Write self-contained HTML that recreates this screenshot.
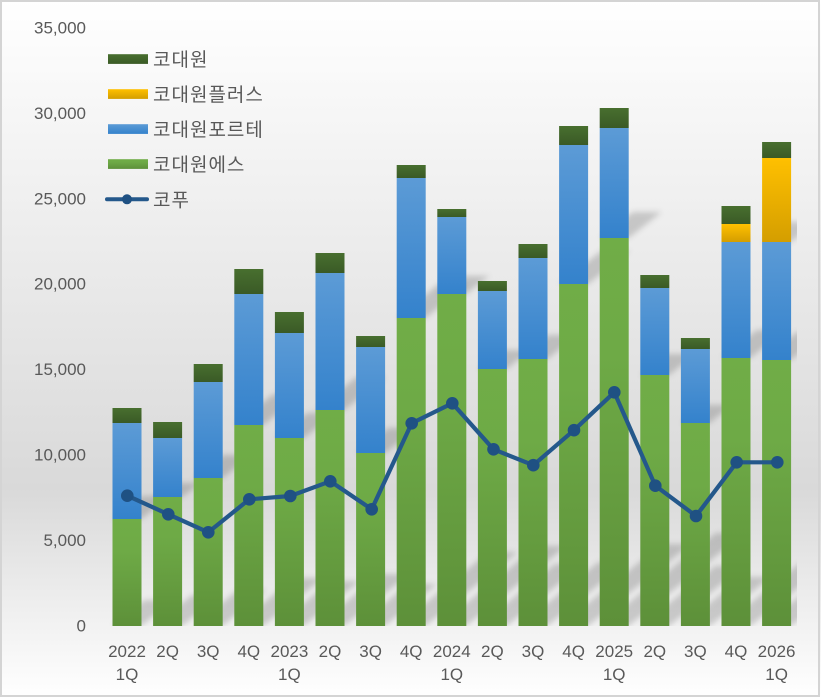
<!DOCTYPE html>
<html><head><meta charset="utf-8">
<style>
html,body{margin:0;padding:0;background:#fff;}
svg{display:block;}
text{font-family:"Liberation Sans","Noto Sans CJK KR",sans-serif;fill:#595959;}
.kr{font-family:"Liberation Sans","Noto Sans CJK KR",sans-serif;font-size:19px;letter-spacing:1px;}
</style></head>
<body>
<svg width="821" height="698" viewBox="0 0 821 698" xmlns="http://www.w3.org/2000/svg">
<defs>
<linearGradient id="bg" x1="0" y1="0" x2="0" y2="1">
<stop offset="0" stop-color="#ffffff"/>
<stop offset="0.70" stop-color="#d9d9d9"/>
<stop offset="1" stop-color="#ffffff"/>
</linearGradient>
<linearGradient id="gG" x1="0" y1="0" x2="0" y2="1">
<stop offset="0" stop-color="#70ad47"/>
<stop offset="0.3" stop-color="#6eaa46"/>
<stop offset="1" stop-color="#5d9039"/>
</linearGradient>
<linearGradient id="gB" x1="0" y1="0" x2="0" y2="1">
<stop offset="0" stop-color="#5c9bd6"/>
<stop offset="1" stop-color="#3482cc"/>
</linearGradient>
<linearGradient id="gY" x1="0" y1="0" x2="0" y2="1">
<stop offset="0" stop-color="#ffc000"/>
<stop offset="1" stop-color="#d49e00"/>
</linearGradient>
<linearGradient id="gD" x1="0" y1="0" x2="0" y2="1">
<stop offset="0" stop-color="#486f2f"/>
<stop offset="1" stop-color="#3a5a26"/>
</linearGradient>
<filter id="blur" x="-20%" y="-20%" width="140%" height="140%"><feGaussianBlur stdDeviation="3"/></filter>
<clipPath id="plot"><rect x="107" y="0" width="690" height="626"/></clipPath>
</defs>

<rect x="0" y="0" width="821" height="698" fill="url(#bg)"/>
<rect x="1" y="1" width="818" height="695" fill="none" stroke="#d4d4d4" stroke-width="2"/>

<!-- shadows -->
<g clip-path="url(#plot)"><g filter="url(#blur)" fill="#000" fill-opacity="0.17">
<polygon points="112.5,626 141.5,626 173.5,600 144.5,600"/>
<polygon points="153.1,626 182.1,626 221.1,595 192.1,595"/>
<polygon points="193.7,626 222.7,626 266.7,590 237.7,590"/>
<polygon points="234.3,626 263.3,626 323.3,578 294.3,578"/>
<polygon points="274.9,626 303.9,626 359.9,581 330.9,581"/>
<polygon points="315.5,626 344.5,626 409.5,574 380.5,574"/>
<polygon points="356.1,626 385.1,626 437.1,584 408.1,584"/>
<polygon points="396.7,626 425.7,626 517.7,552 488.7,552"/>
<polygon points="437.3,626 466.3,626 566.3,546 537.3,546"/>
<polygon points="477.9,626 506.9,626 583.9,564 554.9,564"/>
<polygon points="518.5,626 547.5,626 627.5,562 598.5,562"/>
<polygon points="559.1,626 588.1,626 691.1,544 662.1,544"/>
<polygon points="599.7,626 628.7,626 744.7,533 715.7,533"/>
<polygon points="640.3,626 669.3,626 744.3,566 715.3,566"/>
<polygon points="680.9,626 709.9,626 770.9,577 741.9,577"/>
<polygon points="721.5,626 750.5,626 830.5,562 801.5,562"/>
<polygon points="762.1,626 791.1,626 871.1,562 842.1,562"/>

<polygon points="112.5,519 141.5,519 170.5,496 141.5,496"/>
<polygon points="153.1,497 182.1,497 200.1,483 171.1,483"/>
<polygon points="193.7,478 222.7,478 251.7,455 222.7,455"/>
<polygon points="234.3,425 263.3,425 302.3,394 273.3,394"/>
<polygon points="274.9,438 303.9,438 335.9,413 306.9,413"/>
<polygon points="315.5,410 344.5,410 385.5,377 356.5,377"/>
<polygon points="356.1,453 385.1,453 417.1,428 388.1,428"/>
<polygon points="396.7,318 425.7,318 467.7,284 438.7,284"/>
<polygon points="437.3,294 466.3,294 489.3,276 460.3,276"/>
<polygon points="477.9,369 506.9,369 529.9,350 500.9,350"/>
<polygon points="518.5,359 547.5,359 577.5,335 548.5,335"/>
<polygon points="559.1,284 588.1,284 630.1,251 601.1,251"/>
<polygon points="599.7,238 628.7,238 661.7,212 632.7,212"/>
<polygon points="640.3,375 669.3,375 695.3,354 666.3,354"/>
<polygon points="680.9,423 709.9,423 731.9,405 702.9,405"/>
<polygon points="721.5,358 750.5,358 785.5,330 756.5,330"/>
<polygon points="762.1,360 791.1,360 826.1,332 797.1,332"/>
<polygon points="762.1,242 791.1,242 816.1,222 787.1,222"/>
</g></g>

<!-- bars: green -->
<g fill="url(#gG)">
<rect x="112.5" y="519" width="29" height="107"/>
<rect x="153.1" y="497" width="29" height="129"/>
<rect x="193.7" y="478" width="29" height="148"/>
<rect x="234.3" y="425" width="29" height="201"/>
<rect x="274.9" y="438" width="29" height="188"/>
<rect x="315.5" y="410" width="29" height="216"/>
<rect x="356.1" y="453" width="29" height="173"/>
<rect x="396.7" y="318" width="29" height="308"/>
<rect x="437.3" y="294" width="29" height="332"/>
<rect x="477.9" y="369" width="29" height="257"/>
<rect x="518.5" y="359" width="29" height="267"/>
<rect x="559.1" y="284" width="29" height="342"/>
<rect x="599.7" y="238" width="29" height="388"/>
<rect x="640.3" y="375" width="29" height="251"/>
<rect x="680.9" y="423" width="29" height="203"/>
<rect x="721.5" y="358" width="29" height="268"/>
<rect x="762.1" y="360" width="29" height="266"/>
</g>
<!-- blue -->
<g fill="url(#gB)">
<rect x="112.5" y="423" width="29" height="96"/>
<rect x="153.1" y="438" width="29" height="59"/>
<rect x="193.7" y="382" width="29" height="96"/>
<rect x="234.3" y="294" width="29" height="131"/>
<rect x="274.9" y="333" width="29" height="105"/>
<rect x="315.5" y="273" width="29" height="137"/>
<rect x="356.1" y="347" width="29" height="106"/>
<rect x="396.7" y="178" width="29" height="140"/>
<rect x="437.3" y="217" width="29" height="77"/>
<rect x="477.9" y="291" width="29" height="78"/>
<rect x="518.5" y="258" width="29" height="101"/>
<rect x="559.1" y="145" width="29" height="139"/>
<rect x="599.7" y="128" width="29" height="110"/>
<rect x="640.3" y="288" width="29" height="87"/>
<rect x="680.9" y="349" width="29" height="74"/>
<rect x="721.5" y="242" width="29" height="116"/>
<rect x="762.1" y="242" width="29" height="118"/>
</g>
<!-- yellow -->
<g fill="url(#gY)">
<rect x="721.5" y="224" width="29" height="18"/>
<rect x="762.1" y="158" width="29" height="84"/>
</g>
<!-- dark green -->
<g fill="url(#gD)">
<rect x="112.5" y="408" width="29" height="15"/>
<rect x="153.1" y="422" width="29" height="16"/>
<rect x="193.7" y="364" width="29" height="18"/>
<rect x="234.3" y="269" width="29" height="25"/>
<rect x="274.9" y="312" width="29" height="21"/>
<rect x="315.5" y="253" width="29" height="20"/>
<rect x="356.1" y="336" width="29" height="11"/>
<rect x="396.7" y="165" width="29" height="13"/>
<rect x="437.3" y="209" width="29" height="8"/>
<rect x="477.9" y="281" width="29" height="10"/>
<rect x="518.5" y="244" width="29" height="14"/>
<rect x="559.1" y="126" width="29" height="19"/>
<rect x="599.7" y="108" width="29" height="20"/>
<rect x="640.3" y="275" width="29" height="13"/>
<rect x="680.9" y="338" width="29" height="11"/>
<rect x="721.5" y="206" width="29" height="18"/>
<rect x="762.1" y="142" width="29" height="16"/>
</g>

<!-- line -->
<polyline fill="none" stroke="#24588b" stroke-width="4.2" stroke-linejoin="round" stroke-linecap="round"
points="127.3,495.7 168.3,514.3 208.3,532.3 249.3,499.3 290.3,496 330.3,481.3 371.7,509.3 411.7,423.3 452.3,403.3 493.5,449.3 533.3,465.2 574,430.2 614.3,392.3 655.3,485.7 696,516 736.7,462.3 777.3,462.3"/>
<g fill="#1f5183">
<circle cx="127.3" cy="495.7" r="6.3"/>
<circle cx="168.3" cy="514.3" r="6.3"/>
<circle cx="208.3" cy="532.3" r="6.3"/>
<circle cx="249.3" cy="499.3" r="6.3"/>
<circle cx="290.3" cy="496" r="6.3"/>
<circle cx="330.3" cy="481.3" r="6.3"/>
<circle cx="371.7" cy="509.3" r="6.3"/>
<circle cx="411.7" cy="423.3" r="6.3"/>
<circle cx="452.3" cy="403.3" r="6.3"/>
<circle cx="493.5" cy="449.3" r="6.3"/>
<circle cx="533.3" cy="465.2" r="6.3"/>
<circle cx="574" cy="430.2" r="6.3"/>
<circle cx="614.3" cy="392.3" r="6.3"/>
<circle cx="655.3" cy="485.7" r="6.3"/>
<circle cx="696" cy="516" r="6.3"/>
<circle cx="736.7" cy="462.3" r="6.3"/>
<circle cx="777.3" cy="462.3" r="6.3"/>
</g>

<!-- y axis labels -->
<g font-size="17" text-anchor="end">
<text x="86" y="33.5">35,000</text>
<text x="86" y="119">30,000</text>
<text x="86" y="204.5">25,000</text>
<text x="86" y="289.5">20,000</text>
<text x="86" y="375">15,000</text>
<text x="86" y="460.5">10,000</text>
<text x="86" y="546">5,000</text>
<text x="86" y="631.5">0</text>
</g>

<!-- x axis labels -->
<g font-size="17" text-anchor="middle">
<text x="127" y="657">2022</text>
<text x="167.6" y="657">2Q</text>
<text x="208.2" y="657">3Q</text>
<text x="248.8" y="657">4Q</text>
<text x="289.4" y="657">2023</text>
<text x="330" y="657">2Q</text>
<text x="370.6" y="657">3Q</text>
<text x="411.2" y="657">4Q</text>
<text x="451.8" y="657">2024</text>
<text x="492.4" y="657">2Q</text>
<text x="533" y="657">3Q</text>
<text x="573.6" y="657">4Q</text>
<text x="614.2" y="657">2025</text>
<text x="654.8" y="657">2Q</text>
<text x="695.4" y="657">3Q</text>
<text x="736" y="657">4Q</text>
<text x="776.6" y="657">2026</text>
<text x="127" y="680">1Q</text>
<text x="289.4" y="680">1Q</text>
<text x="451.8" y="680">1Q</text>
<text x="614.2" y="680">1Q</text>
<text x="776.6" y="680">1Q</text>
</g>

<!-- legend -->
<rect x="108" y="54.2" width="40" height="9.7" fill="url(#gD)"/>
<text class="kr" x="153" y="66">코대원</text>
<rect x="108" y="89.2" width="40" height="9.7" fill="url(#gY)"/>
<text class="kr" x="153" y="101">코대원플러스</text>
<rect x="108" y="124.2" width="40" height="9.7" fill="url(#gB)"/>
<text class="kr" x="153" y="136">코대원포르테</text>
<rect x="108" y="159.2" width="40" height="9.7" fill="url(#gG)"/>
<text class="kr" x="153" y="171">코대원에스</text>
<line x1="107" y1="199.3" x2="147" y2="199.3" stroke="#24588b" stroke-width="4" stroke-linecap="round"/>
<circle cx="127" cy="199.3" r="5" fill="#1f5183"/>
<text class="kr" x="153" y="206.3">코푸</text>
</svg>
</body></html>
